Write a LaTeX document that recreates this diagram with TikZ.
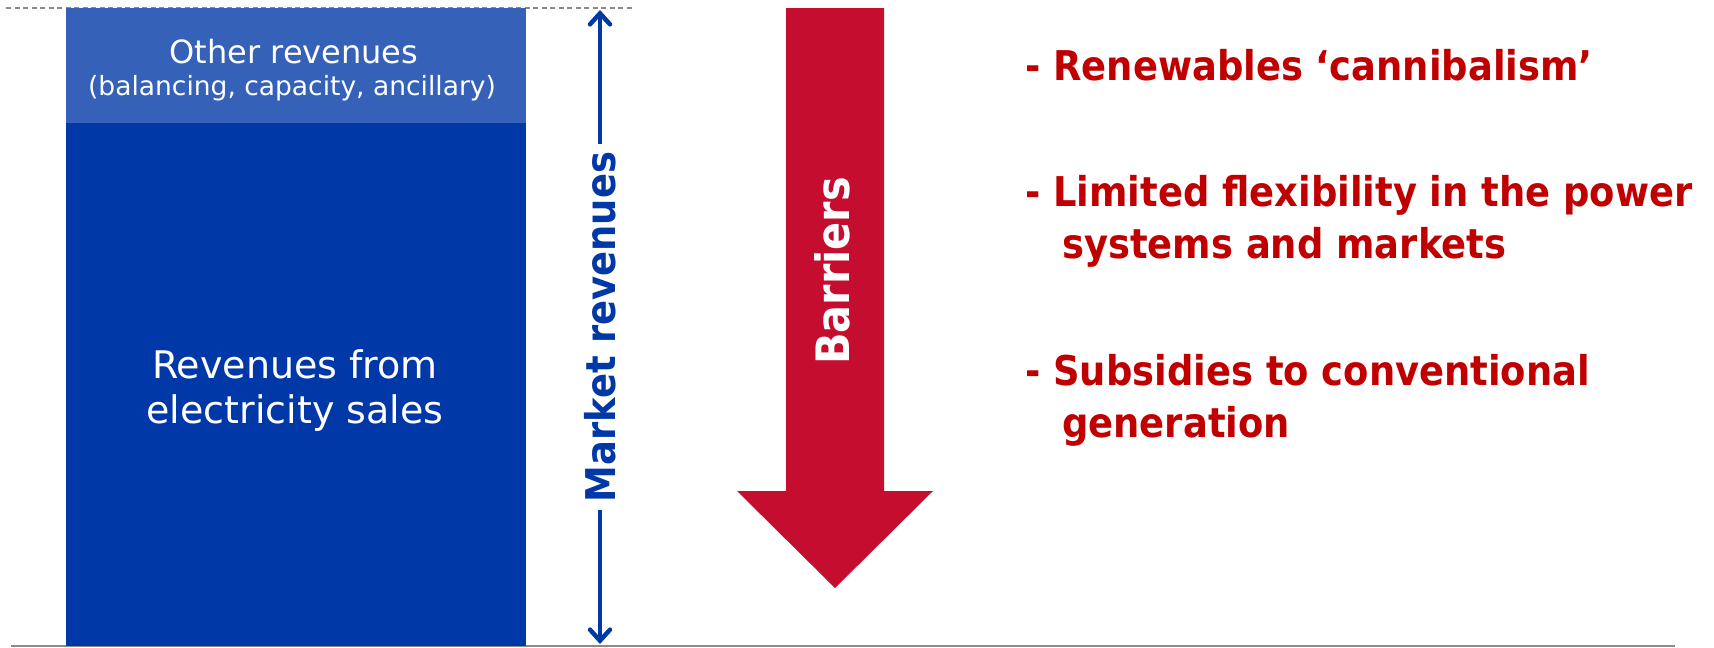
\documentclass[tikz,border=0pt]{standalone}
\usepackage{fontspec}
\setmainfont{DejaVu Sans}
\newfontfamily\condsans{DejaVu Sans Condensed}
\usetikzlibrary{arrows.meta}

\definecolor{blueLight}{HTML}{3562B8}
\definecolor{blueDark}{HTML}{0038A8}
\definecolor{arrowRed}{HTML}{C50D30}
\definecolor{textRed}{HTML}{C00000}
\definecolor{ruleGray}{HTML}{8A8A8A}

\begin{document}
\begin{tikzpicture}[x=1pt,y=-1pt,
  boxtext/.style={text=white, inner sep=0, anchor=base, font=\fontsize{32}{36}\selectfont},
  smalltext/.style={text=white, inner sep=0, anchor=base, font=\fontsize{26.5}{30}\selectfont},
  bigtext/.style={text=white, inner sep=0, anchor=base, align=center, font=\fontsize{38}{45}\selectfont},
  barrieritem/.style={text=textRed, inner sep=0, anchor=base west, align=left,
    font=\condsans\bfseries\fontsize{41}{52}\selectfont},
  span/.style={draw=blueDark, line width=4.5pt, line cap=round,
    {Straight Barb[length=11pt,width=20pt,line cap=round]}-{Straight Barb[length=11pt,width=20pt,line cap=round]}},
  spanlabel/.style={fill=white, text=blueDark, rotate=90, inner xsep=8pt, inner ysep=0pt,
    font=\condsans\bfseries\fontsize{41}{48}\selectfont}
]
\useasboundingbox (0,0) rectangle (1714,648);

% reference lines: top (dashed) and baseline (solid)
\draw[ruleGray, line width=1.5pt, dash pattern=on 5pt off 3.5pt] (6,8) -- (634,8);
\draw[ruleGray, line width=2pt] (11,646) -- (1675,646);

% stacked revenue column
\fill[blueLight] (66,8) rectangle (526,123);
\fill[blueDark] (66,123) rectangle (526,646);
\node[boxtext] (other) at (294,63) {Other revenues};
\node[smalltext] (otherdet) at (292,95) {(balancing, capacity, ancillary)};
% a multi-line node sits on the baseline of its last line
\node[bigtext] (sales) at (295,423) {Revenues from\\electricity sales};

% total market revenues span
\coordinate (spanTop) at (600,10);
\coordinate (spanBot) at (600,644);
\draw[span] (spanTop) -- node[spanlabel] (mr) {Market revenues} (spanBot);

% downward barriers arrow
\fill[arrowRed] (786,8) -- (884,8) -- (884,491) -- (933,491) -- (835,588)
  -- (737,491) -- (786,491) -- cycle;
\node[text=white, rotate=90, inner sep=0, font=\condsans\bfseries\fontsize{46}{52}\selectfont]
  (barriers) at (837,271) {Barriers\vphantom{g}};

% list of barriers
\node[barrieritem] (b1) at (1025,80) {- Renewables ‘cannibalism’};
\node[barrieritem] (b2) at (1025,258) {- Limited flexibility in the power\\\hspace*{37pt}systems and markets};
\node[barrieritem] (b3) at (1025,437) {- Subsidies to conventional\\\hspace*{37pt}generation};
\end{tikzpicture}
\end{document}
